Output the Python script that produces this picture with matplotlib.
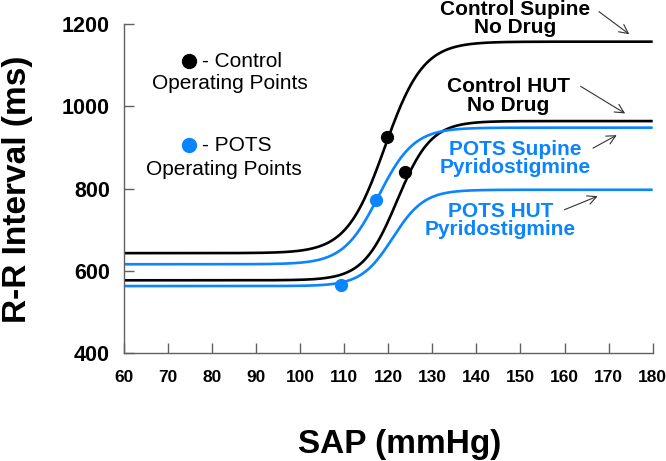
import numpy as np
import matplotlib
matplotlib.use("Agg")
import matplotlib.pyplot as plt

plt.rcParams["font.family"] = ["Liberation Sans", "DejaVu Sans"]

BLUE = "#0a84ff"

# sigmoid parameters: bottom, top, midpoint SAP, slope
curve_names = ["Control Supine", "Control HUT", "POTS Supine", "POTS HUT"]
curve_bottom = [643, 577, 616, 563]
curve_top = [1157, 964, 948, 797]
curve_mid = [119.2, 122.0, 117.8, 121.0]
curve_slope = [0.23, 0.26, 0.25, 0.28]
curve_colors = ["black", "black", BLUE, BLUE]

# operating points
ctrl_op_x = [119.6, 123.9]
ctrl_op_y = [925, 840]
pots_op_x = [117.3, 109.2]
pots_op_y = [772, 565]

x_ticks = [60, 70, 80, 90, 100, 110, 120, 130, 140, 150, 160, 170, 180]
y_ticks = [400, 600, 800, 1000, 1200]

fig = plt.figure(figsize=(6.66, 4.61), dpi=100)
ax = fig.add_axes([0.186, 0.234, 0.794, 0.714])

sap = np.linspace(60, 180, 600)
for b, t, m, k, c in zip(curve_bottom, curve_top, curve_mid, curve_slope, curve_colors):
    rr = b + (t - b) / (1 + np.exp(-k * (sap - m)))
    ax.plot(sap, rr, color=c, lw=1.9, solid_capstyle="butt")

ax.plot(ctrl_op_x, ctrl_op_y, "o", color="black", ms=8.5, zorder=5)
ax.plot(pots_op_x, pots_op_y, "o", color=BLUE, ms=8.5, zorder=5)

ax.set_xlim(60, 180)
ax.set_ylim(400, 1200)
ax.set_xticks(x_ticks)
ax.set_yticks(y_ticks)
for s in ["top", "right"]:
    ax.spines[s].set_visible(False)
for s in ["left", "bottom"]:
    ax.spines[s].set_color("#606060")
    ax.spines[s].set_linewidth(1.0)
ax.tick_params(axis="both", direction="in", length=7, color="#606060", width=1.0)
ax.tick_params(axis="x", labelsize=12.5, pad=12)
ax.tick_params(axis="y", labelsize=15.5, pad=10)
for lab in ax.get_xticklabels() + ax.get_yticklabels():
    lab.set_fontweight("bold")

fig.text(0.027, 0.59, "R-R Interval (ms)", rotation=90, fontsize=24,
         fontweight="bold", ha="center", va="center")
fig.text(0.60, 0.036, "SAP (mmHg)", fontsize=24, fontweight="bold",
         ha="center", va="center")

# legend-like notes
ax.plot([74.7], [1110], "o", color="black", ms=10, clip_on=False)
ax.text(86.7, 1110, "- Control", fontsize=15, ha="center", va="center")
ax.text(84.0, 1056, "Operating Points", fontsize=15, ha="center", va="center")
ax.plot([74.7], [905], "o", color=BLUE, ms=10, clip_on=False)
ax.text(85.6, 905, "- POTS", fontsize=15, ha="center", va="center")
ax.text(82.8, 847, "Operating Points", fontsize=15, ha="center", va="center")

# curve labels with arrows
labels = [
    ("Control Supine\nNo Drug", "black", (148.7, 1214), (167.3, 1234), (175.2, 1171)),
    ("Control HUT\nNo Drug", "black", (147.3, 1025), (163.1, 1052), (174.3, 979)),
    ("POTS Supine\nPyridostigmine", BLUE, (148.9, 873), (165.9, 895), (172.4, 933)),
    ("POTS HUT\nPyridostigmine", BLUE, (145.5, 723), (159.4, 746), (168.1, 784)),
]
for txt, c, pos, a0, a1 in labels:
    ax.text(pos[0], pos[1], txt, color=c, fontsize=15, fontweight="bold",
            ha="center", va="center", linespacing=0.96)
    ax.annotate("", xy=a1, xytext=a0, annotation_clip=False,
                arrowprops=dict(arrowstyle="->", color="#333333", lw=0.8,
                                mutation_scale=16))

fig.savefig("out.png", dpi=100)
